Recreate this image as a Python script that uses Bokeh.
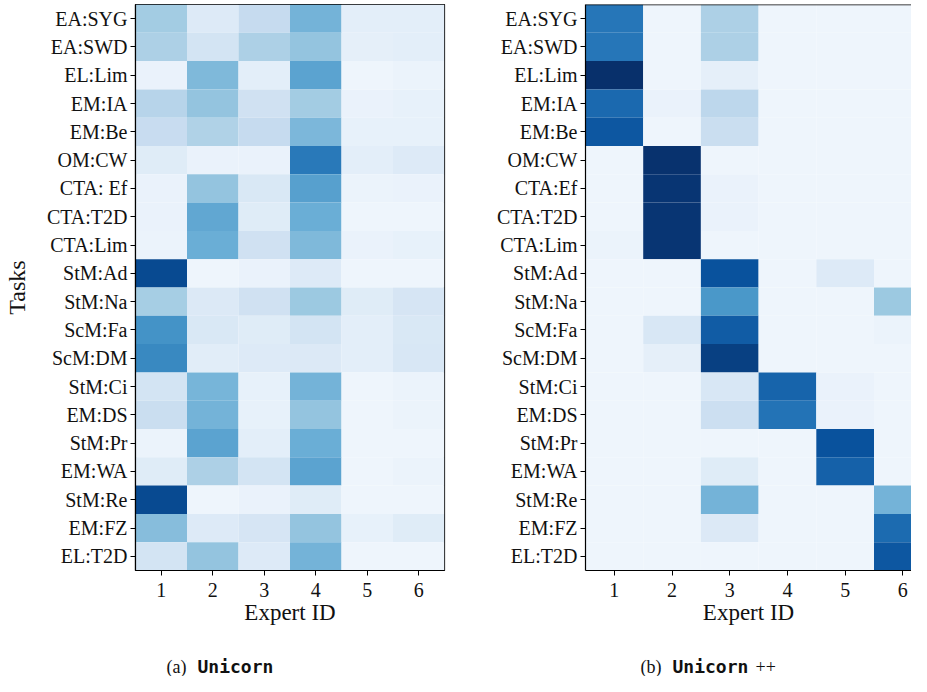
import numpy as np
from bokeh.plotting import figure
from bokeh.models import (LinearColorMapper, FactorRange, Range1d, Span,
                          FixedTicker, ColumnDataSource)
from bokeh.layouts import column, row
from bokeh.palettes import Blues9
from bokeh.core.properties import value
from bokeh.embed import file_html
from bokeh.resources import INLINE

experts = [1, 2, 3, 4, 5, 6]
tasks_a = ["EA:SYG", "EA:SWD", "EL:Lim", "EM:IA", "EM:Be", "OM:CW", "CTA: Ef",
           "CTA:T2D", "CTA:Lim", "StM:Ad", "StM:Na", "ScM:Fa", "ScM:DM", "StM:Ci",
           "EM:DS", "StM:Pr", "EM:WA", "StM:Re", "EM:FZ", "EL:T2D"]
tasks_b = ["EA:SYG", "EA:SWD", "EL:Lim", "EM:IA", "EM:Be", "OM:CW", "CTA:Ef",
           "CTA:T2D", "CTA:Lim", "StM:Ad", "StM:Na", "ScM:Fa", "ScM:DM", "StM:Ci",
           "EM:DS", "StM:Pr", "EM:WA", "StM:Re", "EM:FZ", "EL:T2D"]

# Unicorn (a): rows = tasks, cols = experts 1..6
unicorn = [
    [0.36, 0.13, 0.25, 0.48, 0.10, 0.10],
    [0.33, 0.18, 0.33, 0.40, 0.09, 0.10],
    [0.07, 0.45, 0.10, 0.55, 0.05, 0.06],
    [0.30, 0.40, 0.20, 0.36, 0.07, 0.08],
    [0.24, 0.32, 0.25, 0.46, 0.08, 0.08],
    [0.12, 0.07, 0.07, 0.72, 0.10, 0.13],
    [0.07, 0.40, 0.15, 0.56, 0.06, 0.07],
    [0.07, 0.53, 0.12, 0.50, 0.05, 0.05],
    [0.06, 0.50, 0.20, 0.45, 0.07, 0.08],
    [0.90, 0.05, 0.07, 0.13, 0.05, 0.05],
    [0.35, 0.14, 0.20, 0.38, 0.12, 0.17],
    [0.62, 0.15, 0.12, 0.18, 0.10, 0.15],
    [0.66, 0.11, 0.13, 0.14, 0.10, 0.16],
    [0.18, 0.47, 0.08, 0.48, 0.05, 0.06],
    [0.23, 0.48, 0.08, 0.40, 0.05, 0.06],
    [0.06, 0.55, 0.10, 0.50, 0.05, 0.05],
    [0.12, 0.33, 0.18, 0.55, 0.05, 0.06],
    [0.90, 0.05, 0.07, 0.12, 0.05, 0.05],
    [0.43, 0.13, 0.17, 0.40, 0.08, 0.12],
    [0.18, 0.40, 0.13, 0.48, 0.05, 0.05],
]

# Unicorn++ (b)
unicorn_pp = [
    [0.73, 0.05, 0.33, 0.05, 0.05, 0.05],
    [0.73, 0.05, 0.33, 0.05, 0.05, 0.05],
    [1.00, 0.05, 0.09, 0.05, 0.05, 0.05],
    [0.78, 0.07, 0.28, 0.05, 0.05, 0.05],
    [0.85, 0.05, 0.23, 0.05, 0.05, 0.05],
    [0.05, 0.99, 0.05, 0.05, 0.05, 0.05],
    [0.05, 0.98, 0.07, 0.05, 0.05, 0.05],
    [0.05, 0.98, 0.07, 0.05, 0.05, 0.05],
    [0.06, 0.98, 0.05, 0.05, 0.05, 0.05],
    [0.05, 0.05, 0.87, 0.05, 0.13, 0.05],
    [0.05, 0.05, 0.60, 0.05, 0.05, 0.38],
    [0.05, 0.16, 0.83, 0.05, 0.05, 0.06],
    [0.05, 0.09, 0.94, 0.05, 0.05, 0.05],
    [0.05, 0.05, 0.16, 0.80, 0.07, 0.05],
    [0.05, 0.05, 0.22, 0.74, 0.07, 0.05],
    [0.05, 0.05, 0.05, 0.05, 0.87, 0.05],
    [0.05, 0.05, 0.12, 0.05, 0.81, 0.05],
    [0.05, 0.05, 0.48, 0.05, 0.05, 0.48],
    [0.05, 0.05, 0.14, 0.05, 0.05, 0.77],
    [0.05, 0.05, 0.05, 0.05, 0.05, 0.85],
]

# smooth Blues palette (light -> dark) interpolated from Blues9
base = list(reversed(Blues9))
rgb = np.array([[int(c[i:i + 2], 16) for i in (1, 3, 5)] for c in base], float)
pos = np.linspace(0, 1, len(base))
t = np.linspace(0, 1, 256)
pal = ["#%02x%02x%02x" % tuple(int(round(np.interp(tt, pos, rgb[:, k]))) for k in range(3))
       for tt in t]
mapper = LinearColorMapper(palette=pal, low=0.0, high=1.0)

SERIF = "Liberation Serif"
TOP = 4
FRAME_H = 567
BOTTOM = 56
CELL_W_B = 57.7


def heatmap(tasks, vals, width, left, right, x_end, ylabel, outline):
    xs, ys, vs = [], [], []
    for i, tname in enumerate(tasks):
        for j, e in enumerate(experts):
            xs.append(e)
            ys.append(tname)
            vs.append(vals[i][j])
    src = ColumnDataSource(dict(x=xs, y=ys, v=vs))
    p = figure(width=width, height=TOP + FRAME_H + BOTTOM,
               x_range=Range1d(0.5, x_end), y_range=FactorRange(factors=tasks[::-1]),
               output_backend="svg", toolbar_location=None,
               min_border_left=left, min_border_right=right,
               min_border_top=TOP, min_border_bottom=BOTTOM)
    p.rect(x="x", y="y", width=1, height=1, source=src,
           fill_color={"field": "v", "transform": mapper}, line_color=None)
    p.grid.visible = False
    p.background_fill_color = "white"
    p.outline_line_color = "black" if outline else None
    p.outline_line_width = 1.2
    for ax in (p.xaxis[0], p.yaxis[0]):
        ax.axis_line_color = "black"
        ax.axis_line_width = 1.2
        ax.major_tick_line_color = "black"
        ax.major_tick_out = 5
        ax.major_tick_in = 0
        ax.minor_tick_line_color = None
        ax.major_label_text_font = SERIF
        ax.major_label_text_font_size = "20px"
        ax.major_label_text_color = "#111111"
        ax.axis_label_text_font = SERIF
        ax.axis_label_text_font_style = "normal"
        ax.axis_label_text_color = "#111111"
    p.xaxis.ticker = FixedTicker(ticks=experts)
    p.xaxis.axis_label = "Expert ID"
    p.xaxis.axis_label_text_font_size = "23px"
    p.xaxis.axis_label_standoff = 0
    p.xaxis.major_label_standoff = 7
    p.yaxis.major_label_standoff = 3
    if ylabel:
        p.yaxis.axis_label = ylabel
        p.yaxis.axis_label_text_font_size = "24px"
        p.yaxis.axis_label_standoff = 14
    if not outline:
        p.add_layout(Span(location=len(tasks), dimension="width",
                          line_color="black", line_width=1.5))
    return p


W1 = 460
W2 = 451
p1 = heatmap(tasks_a, unicorn, W1, 135, 16, 6.5, "Tasks", True)
p2_left = 585 - W1
p2 = heatmap(tasks_b, unicorn_pp, W2, p2_left, 0,
             0.5 + (W2 - p2_left) / CELL_W_B, None, False)

CAP_H = 676 - (TOP + FRAME_H + BOTTOM)
cap = figure(width=W1 + W2, height=CAP_H, x_range=Range1d(0, W1 + W2),
             y_range=Range1d(0, CAP_H),
             output_backend="svg", toolbar_location=None, min_border=0)
cap.axis.visible = False
cap.grid.visible = False
cap.outline_line_color = None
cap_serif = ColumnDataSource(dict(x=[166, 640, 755], y=[10, 10, 10], t=["(a)", "(b)", "++"]))
cap_mono = ColumnDataSource(dict(x=[197, 672], y=[10, 10], t=["Unicorn", "Unicorn"]))
cap.text(x="x", y="y", text="t", source=cap_serif, text_font=value(SERIF),
         text_font_size="18px", text_baseline="middle", text_color="#111111")
cap.text(x="x", y="y", text="t", source=cap_mono, text_font=value("DejaVu Sans Mono"),
         text_font_style="bold", text_font_size="18px", text_baseline="middle",
         text_color="#111111")

layout = column(row(p1, p2, spacing=0), cap, spacing=0)
open("out.html", "w").write(file_html(layout, INLINE))
